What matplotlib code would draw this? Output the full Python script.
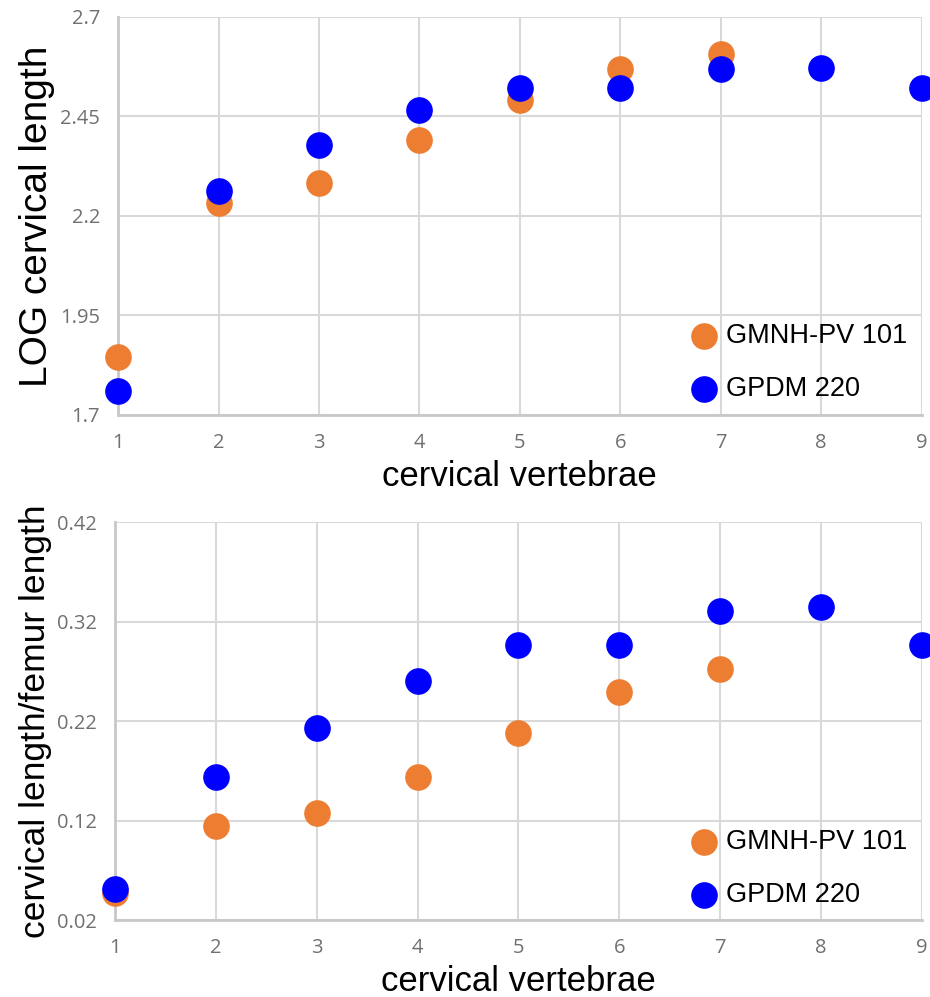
import matplotlib.pyplot as plt

plt.rcParams["font.family"] = ["Liberation Sans", "DejaVu Sans"]

vertebrae = [1, 2, 3, 4, 5, 6, 7, 8, 9]

# LOG cervical length
log_gmnh = [1.846, 2.233, 2.283, 2.391, 2.491, 2.569, 2.607]
log_gpdm = [1.760, 2.263, 2.378, 2.466, 2.522, 2.522, 2.569, 2.572, 2.522]

# cervical length / femur length
ratio_gmnh = [0.047, 0.115, 0.128, 0.164, 0.208, 0.249, 0.273]
ratio_gpdm = [0.051, 0.164, 0.213, 0.261, 0.297, 0.297, 0.331, 0.335, 0.297]

log_ticks = [1.7, 1.95, 2.2, 2.45, 2.7]
log_ticklabels = ["1.7", "1.95", "2.2", "2.45", "2.7"]
ratio_ticks = [0.02, 0.12, 0.22, 0.32, 0.42]
ratio_ticklabels = ["0.02", "0.12", "0.22", "0.32", "0.42"]

orange = "#ED7D31"
blue = "#0000FF"
tick_font = ["Open Sans", "DejaVu Sans"]

fig = plt.figure(figsize=(9.3, 9.97), dpi=100)
ax1 = fig.add_axes([0.127, 0.584, 0.864, 0.399])
ax2 = fig.add_axes([0.124, 0.077, 0.867, 0.399])


def style(ax, ticks, labels, ylabel, ysize, ylabel_x):
    ax.set_xlim(1, 9)
    ax.set_ylim(ticks[0], ticks[-1])
    ax.set_xticks(vertebrae)
    ax.set_yticks(ticks)
    ax.set_yticklabels(labels)
    ax.grid(True, color="#d9d9d9", linewidth=1.5, zorder=0)
    ax.set_axisbelow(True)
    for s in ["top", "right"]:
        ax.spines[s].set_visible(False)
    for s in ["left", "bottom"]:
        ax.spines[s].set_color("#c8c8c8")
        ax.spines[s].set_linewidth(2)
    ax.tick_params(length=0, pad=13, labelsize=14.5, labelcolor="#707070")
    for lab in ax.get_xticklabels() + ax.get_yticklabels():
        lab.set_fontfamily(tick_font)
    ax.set_xlabel("cervical vertebrae", fontsize=25, labelpad=5)
    ax.set_ylabel(ylabel, fontsize=ysize)
    ax.yaxis.set_label_coords(ylabel_x, 0.5)
    ax.legend(loc="lower right", bbox_to_anchor=(1.012, -0.03), frameon=False,
              fontsize=19.5, handletextpad=0.2, labelspacing=1.0,
              handlelength=1.2, markerscale=1.0)


ax1.scatter(vertebrae[:len(log_gmnh)], log_gmnh, s=330, color=orange,
            label="GMNH-PV 101", zorder=3, clip_on=False)
ax1.scatter(vertebrae, log_gpdm, s=330, color=blue, label="GPDM 220",
            zorder=4, clip_on=False)
style(ax1, log_ticks, log_ticklabels, "LOG cervical length", 28, -0.078)

ax2.scatter(vertebrae[:len(ratio_gmnh)], ratio_gmnh, s=330, color=orange,
            label="GMNH-PV 101", zorder=3, clip_on=False)
ax2.scatter(vertebrae, ratio_gpdm, s=330, color=blue, label="GPDM 220",
            zorder=4, clip_on=False)
style(ax2, ratio_ticks, ratio_ticklabels, "cervical length/femur length",
      25.5, -0.078)

fig.savefig("out.png", dpi=100)
